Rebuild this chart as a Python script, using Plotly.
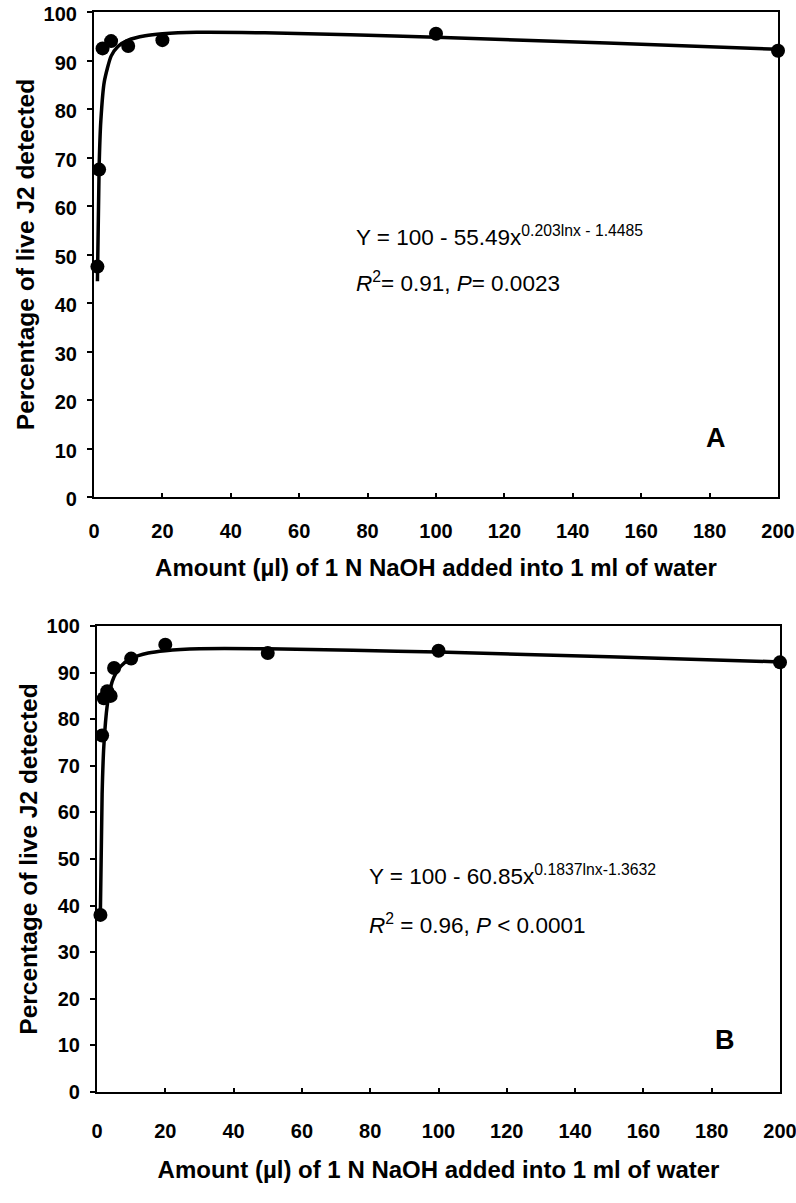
import plotly.graph_objects as go

# Panel A observed data
a_x = [1, 1.5, 2.5, 5, 10, 20, 100, 200]
a_y = [47.5, 67.5, 92.5, 94.0, 93.0, 94.2, 95.5, 92.0]
# Panel A fitted curve
a_fit_x = [1, 1.5, 2, 3, 5, 7, 10, 15, 20, 30, 50, 75, 100, 150, 200]
a_fit_y = [44.5, 68.1, 77.6, 85.6, 90.9, 92.9, 94.2, 95.1, 95.5, 95.8, 95.7, 95.3, 94.8, 93.6, 92.3]

# Panel B observed data
b_x = [1, 1.5, 2, 3, 4, 5, 10, 20, 50, 100, 200]
b_y = [38.0, 76.5, 84.5, 86.0, 85.0, 91.0, 93.0, 96.0, 94.2, 94.7, 92.2]
# Panel B fitted curve
b_fit_x = [1, 1.5, 2, 3, 4, 5, 7, 10, 15, 20, 30, 50, 75, 100, 150, 200]
b_fit_y = [39.2, 63.9, 74.2, 83.0, 86.9, 89.1, 91.4, 93.0, 94.2, 94.7, 95.1, 95.1, 94.8, 94.4, 93.4, 92.3]

x_ticks = [0, 20, 40, 60, 80, 100, 120, 140, 160, 180, 200]
y_ticks = [0, 10, 20, 30, 40, 50, 60, 70, 80, 90, 100]

x_title = "Amount (µl) of 1 N NaOH added into 1 ml of water"
y_title = "Percentage of live J2 detected"

FONT = "Liberation Sans, Arial, sans-serif"

fig = go.Figure()
for fx, fy, px, py, xa, ya in [
    (a_fit_x, a_fit_y, a_x, a_y, "x", "y"),
    (b_fit_x, b_fit_y, b_x, b_y, "x2", "y2"),
]:
    fig.add_trace(go.Scatter(x=fx, y=fy, mode="lines", line=dict(color="black", width=3.5, shape="spline", smoothing=0.6),
                             xaxis=xa, yaxis=ya, showlegend=False, hoverinfo="skip", cliponaxis=False))
    fig.add_trace(go.Scatter(x=px, y=py, mode="markers", marker=dict(color="black", size=14),
                             xaxis=xa, yaxis=ya, showlegend=False, cliponaxis=False))

# page body margin is removed in post_script, so figure sits at (0, 0)
W, H = 796, 1203
L, R, T, B = 94, 16, 12, 1203 - 1092
ph = H - T - B
pw = W - L - R

def ydom(top_px, bot_px):
    return [(H - B - bot_px) / ph, (H - B - top_px) / ph]

def xdom(left_px, right_px):
    return [(left_px - L) / pw, (right_px - L) / pw]

def xaxis_style(label_standoff, title_standoff):
    return dict(range=[0, 200], tickvals=x_ticks, ticks="inside", ticklen=4, tickwidth=1.5, tickcolor="black",
                showline=True, linecolor="black", linewidth=2.2, mirror=True, showgrid=False, zeroline=False,
                automargin=False, ticklabeloverflow="allow",
                tickfont=dict(family=FONT, size=20, color="black", weight="bold"), ticklabelstandoff=label_standoff,
                title=dict(text="<b>" + x_title + "</b>", font=dict(family=FONT, size=24, color="black"),
                           standoff=title_standoff))

def yaxis_style(shift):
    return dict(range=[0, 100], tickvals=y_ticks, ticks="outside", ticklen=5, tickwidth=1.5, tickcolor="black",
                showline=True, linecolor="black", linewidth=2.2, mirror=True, showgrid=False, zeroline=False,
                automargin=False, ticklabeloverflow="allow", ticklabelshift=shift,
                tickfont=dict(family=FONT, size=20, color="black", weight="bold"), ticklabelstandoff=6,
                title=dict(text="<b>" + y_title + "</b>", font=dict(family=FONT, size=24.5, color="black"),
                           standoff=2))

fig.update_layout(
    width=W, height=H, margin=dict(l=L, r=R, t=T, b=B, autoexpand=False),
    paper_bgcolor="white", plot_bgcolor="white",
    xaxis=dict(domain=xdom(94, 778), anchor="y", **xaxis_style(15, 18)),
    yaxis=dict(domain=ydom(12, 497), anchor="x", **yaxis_style(2)),
    xaxis2=dict(domain=xdom(97, 780), anchor="y2", **xaxis_style(20, 20)),
    yaxis2=dict(domain=ydom(626, 1092), anchor="x2", **yaxis_style(0)),
)

eq_font = dict(family=FONT, size=22.5, color="black")
annots = [
    dict(xref="x", yref="y", x=76, y=53.8, text="Y = 100 - 55.49x<sup>0.203lnx - 1.4485</sup>"),
    dict(xref="x", yref="y", x=76, y=44.3, text="<i>R</i><sup>2</sup>= 0.91, <i>P</i>= 0.0023"),
    dict(xref="x2", yref="y2", x=79, y=46.5, text="Y = 100 - 60.85x<sup>0.1837lnx-1.3632</sup>"),
    dict(xref="x2", yref="y2", x=79, y=36.1, text="<i>R</i><sup>2</sup> = 0.96, <i>P</i> < 0.0001"),
]
for a in annots:
    fig.add_annotation(showarrow=False, xanchor="left", yanchor="middle", font=eq_font, **a)

fig.add_annotation(xref="x", yref="y", x=182, y=12.2, text="<b>A</b>", showarrow=False,
                   font=dict(family=FONT, size=27, color="black"))
fig.add_annotation(xref="x2", yref="y2", x=184, y=11.2, text="<b>B</b>", showarrow=False,
                   font=dict(family=FONT, size=27, color="black"))

fig.write_html("out.html", config={"displayModeBar": False},
               post_script="document.body.style.margin='0';document.body.style.overflow='hidden';")
